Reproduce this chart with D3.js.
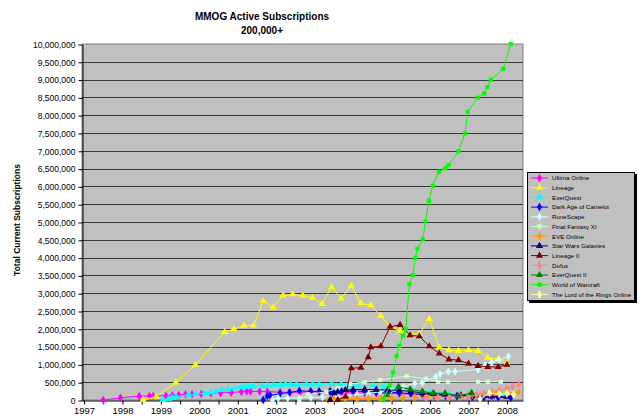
<!DOCTYPE html>
<html>
<head>
<meta charset="utf-8">
<script src="https://cdn.jsdelivr.net/npm/d3@7"></script>
<style>
  body { margin: 0; background: #fff; }
  svg { font-family: Arial, "Liberation Sans", sans-serif; }
</style>
</head>
<body>
<svg id="chart" width="641" height="419"></svg>
<script>
// values: [year, subscribers in thousands]
var ultimaOnline = [[1997.5,0],[1997.95,60],[1998.44,110],[1998.7,110],[1998.8,115],[1999.13,120],[1999.3,130],[1999.46,140],[1999.64,160],[1999.81,160],[2000.05,170],[2000.3,190],[2000.55,200],[2000.83,210],[2001.09,230],[2001.23,240],[2001.33,240],[2001.57,240],[2001.77,235],[2002.1,220],[2002.36,210],[2002.62,220],[2002.88,230],[2003.1,225],[2003.4,220],[2003.7,210],[2004.0,200],[2004.3,195],[2004.6,190],[2004.9,185],[2005.2,175],[2005.5,165],[2005.8,155],[2006.1,140],[2006.4,120],[2006.7,110],[2007.0,100],[2007.3,90],[2007.6,85]];
var lineage = [[1998.54,0],[1998.87,90],[1999.39,490],[1999.9,990],[2000.66,1910],[2000.9,1990],[2001.16,2090],[2001.41,2090],[2001.66,2780],[2001.92,2600],[2002.18,2940],[2002.43,2970],[2002.69,2930],[2002.94,2870],[2003.19,2700],[2003.44,3170],[2003.69,2850],[2003.95,3210],[2004.2,2720],[2004.46,2660],[2004.72,2360],[2004.96,2060],[2005.22,1950],[2005.48,1830],[2005.72,1850],[2005.98,2280],[2006.24,1480],[2006.49,1400],[2006.74,1380],[2007.0,1400],[2007.25,1380],[2007.5,1190],[2007.77,1150],[2008.0,1030]];
var everQuest = [[1999.05,0],[1999.2,30],[1999.3,60],[1999.4,90],[1999.72,150],[1999.9,170],[2000.14,190],[2000.3,210],[2000.42,240],[2000.58,280],[2000.75,300],[2000.92,330],[2001.08,360],[2001.17,370],[2001.26,380],[2001.35,390],[2001.42,390],[2001.64,390],[2001.77,410],[2001.93,420],[2002.11,430],[2002.25,440],[2002.37,440],[2002.53,430],[2002.78,440],[2002.95,440],[2003.12,440],[2003.44,450],[2003.69,440],[2003.95,430],[2004.14,410],[2004.52,410],[2004.8,380],[2005.1,330],[2005.5,280],[2006.0,220],[2006.5,180],[2007.0,170],[2007.5,160],[2008.0,150]];
var darkAge = [[2001.66,0],[2001.77,120],[2001.84,130],[2002.1,180],[2002.34,210],[2002.6,260],[2002.9,240],[2003.12,240],[2003.4,250],[2003.7,250],[2004.0,250],[2004.3,240],[2004.6,230],[2004.9,220],[2005.2,200],[2005.5,180],[2005.8,160],[2006.1,140],[2006.4,125],[2006.7,110],[2007.1,90],[2007.4,75],[2007.77,70],[2008.1,60]];
var runeScape = [[2001.9,0],[2002.05,50],[2002.3,50],[2002.6,60],[2002.9,70],[2003.2,80],[2003.5,100],[2003.8,120],[2004.1,150],[2004.4,180],[2004.7,230],[2005.0,300],[2005.3,370],[2005.6,470],[2005.8,490],[2006.15,650],[2006.26,730],[2006.47,800],[2006.65,800],[2007.25,860],[2007.43,980],[2007.6,1060],[2007.79,1120],[2008.04,1220]];
var finalFantasy = [[2002.6,0],[2002.83,160],[2003.3,230],[2003.6,330],[2003.92,450],[2004.3,500],[2004.7,560],[2005.39,670],[2005.9,600],[2006.21,510],[2006.47,510],[2007.25,510],[2007.5,510],[2007.84,510]];
var eveOnline = [[2003.35,0],[2003.5,30],[2003.8,40],[2004.1,40],[2004.4,45],[2004.7,50],[2005.0,55],[2005.3,65],[2005.6,75],[2005.9,85],[2006.2,100],[2006.5,115],[2006.8,130],[2007.1,150],[2007.4,165],[2007.7,180],[2008.0,200],[2008.3,220]];
var starWars = [[2003.4,0],[2003.5,190],[2003.6,230],[2003.8,280],[2004.0,290],[2004.3,300],[2004.6,290],[2004.9,280],[2005.2,270],[2005.5,240],[2005.8,200],[2006.1,170],[2006.4,150],[2006.8,130],[2007.2,110],[2007.6,100],[2008.0,90]];
var lineage2 = [[2003.6,0],[2003.8,100],[2003.95,890],[2004.2,910],[2004.39,1200],[2004.46,1480],[2004.72,1510],[2004.96,2060],[2005.22,2110],[2005.48,1820],[2005.72,1790],[2005.98,1510],[2006.24,1310],[2006.49,1140],[2006.74,1120],[2007.0,1020],[2007.25,960],[2007.5,930],[2007.77,930],[2008.0,990]];
var dofus = [[2005.9,60],[2006.2,70],[2006.5,80],[2006.8,90],[2007.0,100],[2007.2,140],[2007.4,180],[2007.6,220],[2007.8,270],[2008.0,320],[2008.15,380],[2008.3,450]];
var everQuest2 = [[2004.87,140],[2005.18,370],[2005.48,300],[2005.8,240],[2006.08,190],[2006.39,190],[2006.73,110],[2007.08,200]];
var worldOfWarcraft = [[2004.78,20],[2004.96,410],[2005.04,770],[2005.13,1240],[2005.2,1520],[2005.29,1800],[2005.37,2000],[2005.46,3250],[2005.55,3510],[2005.62,3990],[2005.67,4250],[2005.81,4510],[2005.88,5010],[2005.97,5600],[2006.07,6020],[2006.23,6410],[2006.4,6510],[2006.48,6600],[2006.74,6990],[2006.91,7490],[2006.98,8100],[2007.24,8490],[2007.41,8610],[2007.49,8790],[2007.58,8990],[2007.9,9300],[2008.1,10000]];
var lordOfTheRings = [[2007.3,40],[2007.55,190],[2007.8,170],[2008.0,180],[2008.17,150]];

var seriesNames = ["Ultima Online", "Lineage", "EverQuest", "Dark Age of Camelot", "RuneScape",
    "Final Fantasy XI", "EVE Online", "Star Wars Galaxies", "Lineage II", "Dofus",
    "EverQuest II", "World of Warcraft", "The Lord of the Rings Online"];
var seriesData = [ultimaOnline, lineage, everQuest, darkAge, runeScape, finalFantasy,
    eveOnline, starWars, lineage2, dofus, everQuest2, worldOfWarcraft, lordOfTheRings];
var seriesColors = ["#ff00ff", "#ffff00", "#00ffff", "#0000ff", "#ccffff", "#ccffcc",
    "#ff9900", "#000080", "#800000", "#ff8080", "#008000", "#00ff00", "#ffff99"];
var seriesMarkers = ["diamond", "triangle", "triangle", "diamond", "diamond", "square",
    "diamond", "triangle", "triangle", "diamond", "triangle", "square", "diamond"];

var yearTicks = d3.range(1997, 2009);
var valueTicks = d3.range(0, 10000001, 500000);

var svg = d3.select("#chart");
var plot = {left: 82, right: 523, top: 44, bottom: 400};

var x = d3.scaleLinear()
    .domain([1996.948, 2008.417])
    .range([plot.left, plot.right]);
var y = d3.scaleLinear()
    .domain([0, 10000000])
    .range([plot.bottom, plot.top]);

var symbols = {
    diamond: d3.symbol().type(d3.symbolDiamond).size(22),
    triangle: d3.symbol().type(d3.symbolTriangle).size(22),
    square: d3.symbol().type(d3.symbolSquare).size(18)
};

// plot area
svg.append("rect")
    .attr("x", plot.left).attr("y", plot.top)
    .attr("width", plot.right - plot.left).attr("height", plot.bottom - plot.top)
    .attr("fill", "#c0c0c0")
    .attr("stroke", "#808080");

// gridlines
svg.append("g")
    .selectAll("line")
    .data(valueTicks.slice(1, -1))
    .enter()
    .append("line")
    .attr("x1", plot.left).attr("x2", plot.right)
    .attr("y1", d => Math.round(y(d)) + 0.5).attr("y2", d => Math.round(y(d)) + 0.5)
    .attr("stroke", "#3a3a3a")
    .attr("stroke-width", 1);

// y axis
var yAxis = svg.append("g")
    .attr("transform", "translate(" + (plot.left + 0.5) + ",0.5)")
    .call(d3.axisLeft(y).tickValues(valueTicks).tickFormat(d3.format(",")).tickSize(4).tickSizeOuter(0));
yAxis.select(".domain").attr("stroke", "#000");
yAxis.selectAll("line").attr("stroke", "#000");
yAxis.selectAll("text").attr("font-size", "8.5px").attr("fill", "#000").attr("x", -7);
yAxis.attr("font-family", null);

// x axis: ticks every half year, labels on the years
var halfYears = d3.range(1997, 2008.5, 0.5);
var xAxis = svg.append("g")
    .attr("transform", "translate(0," + (plot.bottom + 0.5) + ")")
    .call(d3.axisBottom(x).tickValues(halfYears)
        .tickFormat(d => yearTicks.includes(d) ? d : "").tickSize(4).tickSizeOuter(0));
xAxis.select(".domain").attr("stroke", "#000");
xAxis.selectAll("line").attr("stroke", "#000");
xAxis.selectAll("text").attr("font-size", "9.5px").attr("fill", "#000").attr("y", 7);
xAxis.attr("font-family", null);

// titles
svg.append("text")
    .attr("x", 262).attr("y", 20)
    .attr("text-anchor", "middle")
    .attr("font-size", "10px").attr("font-weight", "bold")
    .text("MMOG Active Subscriptions");
svg.append("text")
    .attr("x", 262).attr("y", 34)
    .attr("text-anchor", "middle")
    .attr("font-size", "10px").attr("font-weight", "bold")
    .text("200,000+");
svg.append("text")
    .attr("transform", "translate(20,220) rotate(-90)")
    .attr("text-anchor", "middle")
    .attr("font-size", "8.5px").attr("font-weight", "bold")
    .text("Total Current Subscriptions");

// series
var line = d3.line()
    .x(d => x(d[0]))
    .y(d => y(d[1] * 1000));

var series = seriesNames.map(function(name, i) {
    return {name: name, values: seriesData[i], color: seriesColors[i], marker: seriesMarkers[i]};
});

var groups = svg.append("g")
    .selectAll("g.series")
    .data(series)
    .enter()
    .append("g")
    .attr("class", "series");

groups.append("path")
    .attr("d", d => line(d.values))
    .attr("fill", "none")
    .attr("stroke", d => d.color)
    .attr("stroke-width", 1);

groups.each(function(s) {
    d3.select(this).selectAll("path.pt")
        .data(s.values)
        .enter()
        .append("path")
        .attr("class", "pt")
        .attr("d", symbols[s.marker])
        .attr("transform", d => "translate(" + x(d[0]) + "," + y(d[1] * 1000) + ")")
        .attr("fill", s.color);
});

// legend
var legend = svg.append("g").attr("transform", "translate(527,172)");
legend.append("rect")
    .attr("x", 2).attr("y", 2).attr("width", 108).attr("height", 129)
    .attr("fill", "#000");
legend.append("rect")
    .attr("x", 0.5).attr("y", 0.5).attr("width", 107).attr("height", 128)
    .attr("fill", "#c0c0c0").attr("stroke", "#000");

var item = legend.selectAll("g.item")
    .data(series)
    .enter()
    .append("g")
    .attr("class", "item")
    .attr("transform", (d, i) => "translate(0," + (6 + i * 9.7) + ")");
item.append("line")
    .attr("x1", 4).attr("x2", 21)
    .attr("stroke", d => d.color);
item.append("path")
    .attr("d", d => symbols[d.marker]())
    .attr("transform", "translate(12.5,0)")
    .attr("fill", d => d.color);
item.append("text")
    .attr("x", 25).attr("y", 2.3)
    .attr("font-size", "6.2px")
    .text(d => d.name);
</script>
</body>
</html>
